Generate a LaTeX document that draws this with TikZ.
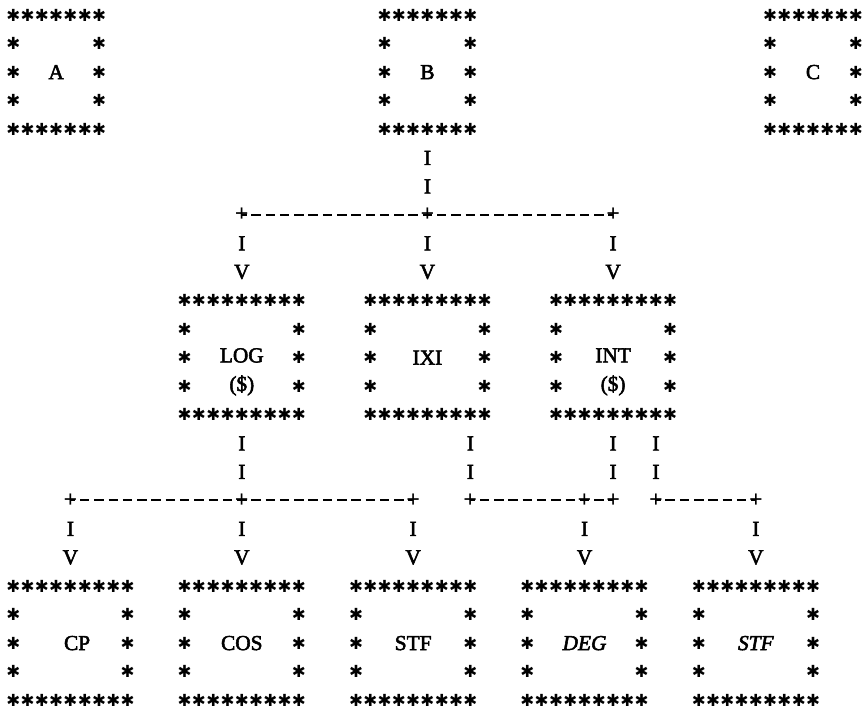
\documentclass[tikz,border=0pt]{standalone}
\usepackage{fontspec}
\setmainfont{Liberation Serif}
\newfontfamily\typefont{Liberation Serif}[RawFeature={embolden=2.5}]
\newfontfamily\starfont{DejaVu Sans}
\usetikzlibrary{positioning}
\tikzset{
  glyph/.style={inner sep=0pt, font=\typefont\fontsize{16}{18}\selectfont, text height=10.5pt, text depth=0pt},
  star/.style={inner sep=0pt, font=\starfont\fontsize{12.5}{14}\selectfont},
  junct/.style={inner sep=0pt, font=\fontsize{18}{20}\selectfont\bfseries},
  frame/.style={rectangle, inner sep=0pt, draw=none},
  boxtext/.style={inner sep=0pt, align=center, font=\typefont\fontsize{16}{21.4125}\selectfont},
  hyph/.style={line width=1.7pt, dash pattern=on 7.1pt off 3.61pt, dash phase=3.55pt}
}
% typed box of asterisks: [label opts]{name}{left col}{top row}{width in chars}{label}
\newcommand\asterbox[6][]{%
  \pgfmathtruncatemacro\rgt{#3+#5-1}
  \foreach \cc in {#3,...,\rgt} {
    \node[star] at (\cc,#4) {✱};
    \node[star] at (\cc,#4+4) {✱};
  }
  \foreach \rr in {1,2,3} {
    \node[star] at (#3,#4+\rr) {✱};
    \node[star] at (\rgt,#4+\rr) {✱};
  }
  \node[frame, minimum width={(#5-1)*10.71pt}, minimum height={4*21.4125pt}] (#2) at ({#3+(#5-1)/2},#4+2) {};
  \node[boxtext, #1] at (#2.center) {#6};
}

\begin{document}
\begin{tikzpicture}[x=10.71pt, y=-21.4125pt]
\useasboundingbox (-10pt,11.25pt) rectangle (636.5pt,-522pt);
% ---- top row ----
\asterbox{A}{0}{0}{7}{A}
\asterbox{B}{26}{0}{7}{B}
\asterbox{C}{53}{0}{7}{C}
% ---- upper bus ----
\node[junct] (upL) at (16,7) {+};
\node[junct] (upM) at (29,7) {+};
\node[junct] (upR) at (42,7) {+};
\draw[hyph] (upL.center) -- (upR.center);
\path (B.south) -- node[glyph, pos=1/3] {I} node[glyph, pos=2/3] {I} (upM.center);
% ---- middle row ----
\asterbox[yshift=-10.7pt]{LOG}{12}{10}{9}{LOG\\(\$)}
\asterbox{IXI}{25}{10}{9}{IXI}
\asterbox[yshift=-10.7pt]{INT}{38}{10}{9}{INT\\(\$)}
\path (upL.center) -- node[glyph, pos=1/3] {I} node[glyph, pos=2/3] {V} (LOG.north);
\path (upM.center) -- node[glyph, pos=1/3] {I} node[glyph, pos=2/3] {V} (IXI.north);
\path (upR.center) -- node[glyph, pos=1/3] {I} node[glyph, pos=2/3] {V} (INT.north);
% ---- lower buses ----
\node[junct] (lowA) at (4,17) {+};
\node[junct] (lowB) at (16,17) {+};
\node[junct] (lowC) at (28,17) {+};
\node[junct] (lowD) at (32,17) {+};
\node[junct] (lowE) at (40,17) {+};
\node[junct] (lowF) at (42,17) {+};
\node[junct] (lowG) at (45,17) {+};
\node[junct] (lowH) at (52,17) {+};
\draw[hyph] (lowA.center) -- (lowC.center);
\draw[hyph] (lowD.center) -- (lowF.center);
\draw[hyph] (lowG.center) -- (lowH.center);
\path (LOG.south) -- node[glyph, pos=1/3] {I} node[glyph, pos=2/3] {I} (lowB.center);
\path (IXI.south -| lowD) -- node[glyph, pos=1/3] {I} node[glyph, pos=2/3] {I} (lowD.center);
\path (INT.south) -- node[glyph, pos=1/3] {I} node[glyph, pos=2/3] {I} (lowF.center);
\path (INT.south -| lowG) -- node[glyph, pos=1/3] {I} node[glyph, pos=2/3] {I} (lowG.center);
% ---- bottom row ----
\asterbox[xshift=5pt]{CP}{0}{20}{9}{CP}
\asterbox{COS}{12}{20}{9}{COS}
\asterbox{STF}{24}{20}{9}{STF}
\asterbox{DEG}{36}{20}{9}{\textit{DEG}}
\asterbox{STFb}{48}{20}{9}{\textit{STF}}
\path (lowA.center) -- node[glyph, pos=1/3] {I} node[glyph, pos=2/3] {V} (CP.north);
\path (lowB.center) -- node[glyph, pos=1/3] {I} node[glyph, pos=2/3] {V} (COS.north);
\path (lowC.center) -- node[glyph, pos=1/3] {I} node[glyph, pos=2/3] {V} (STF.north);
\path (lowE.center) -- node[glyph, pos=1/3] {I} node[glyph, pos=2/3] {V} (DEG.north);
\path (lowH.center) -- node[glyph, pos=1/3] {I} node[glyph, pos=2/3] {V} (STFb.north);
\end{tikzpicture}
\end{document}
